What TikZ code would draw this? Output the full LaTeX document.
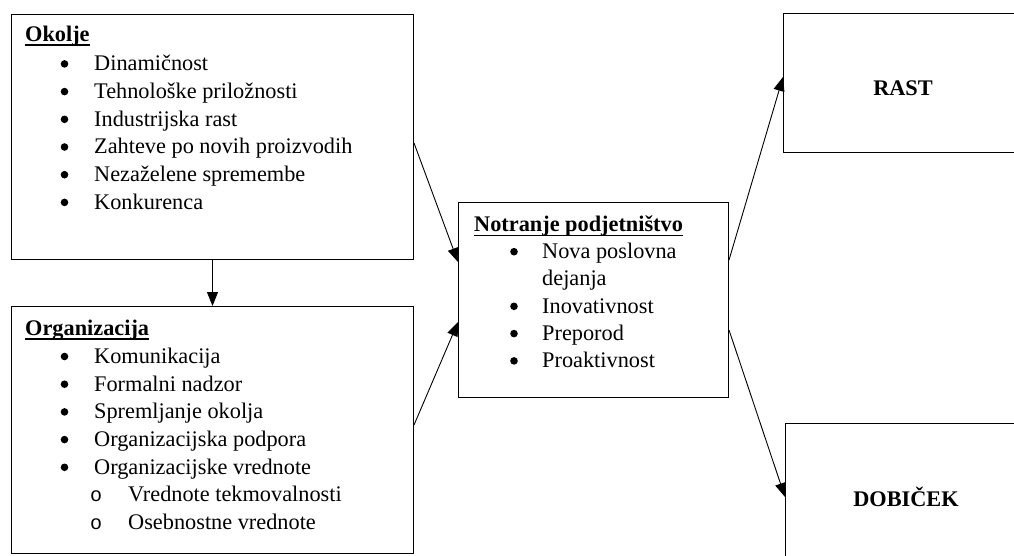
\documentclass[tikz,border=0pt]{standalone}
\usepackage{fontspec}
\setmainfont{Liberation Serif}
\newfontfamily\monofnt{Liberation Mono}
\usetikzlibrary{arrows.meta}
\newcommand\bodyfont{\fontsize{22.3}{27.7}\selectfont}
\tikzset{
  box/.style={draw, line width=1pt, anchor=north west, inner sep=0pt},
  txt/.style={anchor=base west, inner sep=0pt, font=\bodyfont},
  hdr/.style={anchor=base west, inner sep=0pt, font=\bodyfont\bfseries},
  bul/.style={circle, fill=black, inner sep=0pt, minimum size=7.6pt},
  sub/.style={anchor=base, inner sep=0pt, font=\fontsize{20}{24}\selectfont\monofnt},
  big/.style={anchor=base, inner sep=0pt, font=\bodyfont\bfseries},
  uline/.style={line width=1.8pt},
  arr/.style={-{Triangle[length=14pt,width=11pt]}, line width=0.9pt},
}
\begin{document}
\begin{tikzpicture}[x=1pt,y=-1pt]
\useasboundingbox (0,0) rectangle (1014,555);
\clip (0,0) rectangle (1014,555);

% boxes
\node[box, minimum width=402pt, minimum height=245pt] (ok)  at (11,14)  {};
\node[box, minimum width=402pt, minimum height=247pt] (org) at (11,306) {};
\node[box, minimum width=270pt, minimum height=195pt] (nt)  at (458,202) {};
\node[box, minimum width=250pt, minimum height=139pt] (rast) at (783,13) {};
\node[box, minimum width=250pt, minimum height=160pt] (dob)  at (785,423) {};

% Okolje
\node[hdr] (okh) at (25,41.5) {Okolje};
\draw[uline] ([yshift=-3.5pt]okh.base west) -- ([yshift=-3.5pt]okh.base east);
\foreach \t [count=\i] in {Dinamičnost, Tehnološke priložnosti, Industrijska rast,
    Zahteve po novih proizvodih, Nezaželene spremembe, Konkurenca} {
  \node[bul] (okb\i) at (64.5,{43+27.7*\i-6.8}) {};
  \node[txt] (oki\i) at (94,{43+27.7*\i}) {\t};
}

% Organizacija
\node[hdr] (orgh) at (25,335) {Organizacija};
\draw[uline] ([yshift=-4pt]orgh.base west) -- ([yshift=-4pt]orgh.base east);
\foreach \t [count=\i] in {Komunikacija, Formalni nadzor, Spremljanje okolja,
    Organizacijska podpora, Organizacijske vrednote} {
  \node[bul] (orgb\i) at (64.5,{335.6+27.7*\i-6.8}) {};
  \node[txt] (orgi\i) at (94,{335.6+27.7*\i}) {\t};
}
\foreach \t [count=\i] in {Vrednote tekmovalnosti, Osebnostne vrednote} {
  \node[sub] (orgs\i) at (96,{474.1+27.7*\i}) {o};
  \node[txt] (orgt\i) at (128,{474.1+27.7*\i}) {\t};
}

% Notranje podjetništvo
\node[hdr] (nth) at (474,231) {Notranje podjetništvo};
\draw[uline] ([yshift=-4.5pt]nth.base west) -- ([yshift=-4.5pt]nth.base east);
\node[bul] (ntb1) at (514,251.7) {};
\node[txt] (nti1) at (542,258.5) {Nova poslovna};
\node[txt] (nti1b) at (542,285.8) {dejanja};
\node[bul] (ntb2) at (514,306.3) {};
\node[txt] (nti2) at (542,313.1) {Inovativnost};
\node[bul] (ntb3) at (514,333.6) {};
\node[txt] (nti3) at (542,340.4) {Preporod};
\node[bul] (ntb4) at (514,360.9) {};
\node[txt] (nti4) at (542,367.7) {Proaktivnost};

% outcomes
\node[big] (rastl) at (903,95) {RAST};
\node[big] (dobl) at (906,506) {DOBIČEK};

% connectors
\draw[arr] (ok.south) -- (org.north);
\draw[arr] ([yshift=-129pt]ok.north east) -- ([yshift=-60pt]nt.north west);
\draw[arr] ([yshift=-119pt]org.north east) -- ([yshift=-120pt]nt.north west);
\draw[arr] ([yshift=-58pt]nt.north east) -- ([yshift=-64pt]rast.north west);
\draw[arr] ([yshift=-128pt]nt.north east) -- ([yshift=-74pt]dob.north west);
\end{tikzpicture}
\end{document}
